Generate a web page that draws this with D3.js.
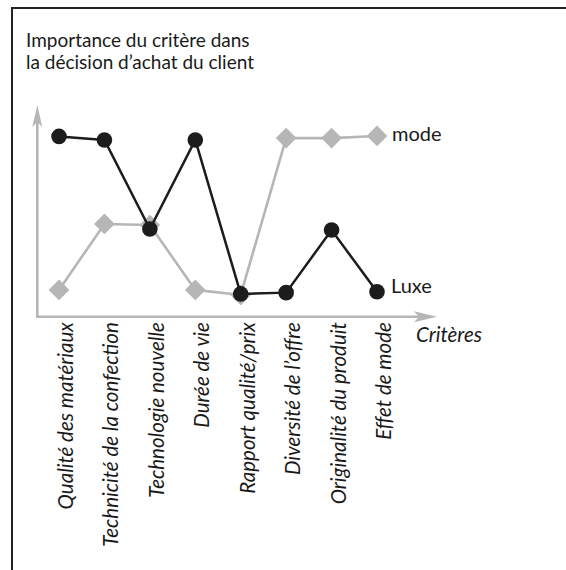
<!DOCTYPE html>
<html>
<head>
    <script src="https://d3js.org/d3.v7.min.js" charset="utf-8"></script>
<style>
    body{
        margin:0;
        background:#fff;
        font-family:Lato, "Open Sans", sans-serif;
    }
</style>
</head>
<body>
    <div id="chart"></div>

  <script>
    // criteria along the x axis
    var criteres = ["Qualité des matériaux","Technicité de la confection","Technologie nouvelle",
                    "Durée de vie","Rapport qualité/prix","Diversité de l’offre",
                    "Originalité du produit","Effet de mode"]
    // importance (0 = bottom axis, 10 = top arrow)
    var luxe = [8.6, 8.43, 4.19, 8.43, 1.1, 1.16, 4.14, 1.2]
    var mode = [1.29, 4.43, 4.38, 1.29, 1.05, 8.52, 8.52, 8.62]
    var titleLines = ["Importance du critère dans","la décision d’achat du client"]

    var W = 566, H = 570
    var grey = "#b6b6b6", dark = "#1c1c1c", ink = "#1a1a1a"

    var svg = d3.select("#chart")
        .append("svg")
        .attr("width",W)
        .attr("height",H)

    // frame, only top and left edges fall inside the picture
    svg.append("rect")
        .attr("x",12).attr("y",8)
        .attr("width",700).attr("height",700)
        .attr("fill","none")
        .attr("stroke","#222")
        .attr("stroke-width",2)

    svg.append("g").selectAll("text")
        .data(titleLines)
        .enter()
        .append("text")
        .attr("x",26)
        .attr("y",function(d,i){return 47+i*22})
        .attr("font-size",19)
        .attr("fill",ink)
        .text(function(d){return d})

    var x = d3.scalePoint().domain(criteres).range([59,377])
    var y = d3.scaleLinear().domain([0,10]).range([317,107])

    var x0 = 37.3, y0 = 316.7

    // axes with swept arrow heads
    svg.append("line")
        .attr("x1",x0).attr("y1",y0+1.2)
        .attr("x2",x0).attr("y2",112)
        .attr("stroke",grey).attr("stroke-width",2.6)
    svg.append("path")
        .attr("d","M"+x0+",105 L"+(x0+5)+",127 L"+x0+",122 L"+(x0-5)+",127 Z")
        .attr("fill",grey)
    svg.append("line")
        .attr("x1",x0-1.3).attr("y1",y0)
        .attr("x2",430).attr("y2",y0)
        .attr("stroke",grey).attr("stroke-width",2.6)
    svg.append("path")
        .attr("d","M437,"+y0+" L414,"+(y0-5.5)+" L419,"+y0+" L414,"+(y0+5.5)+" Z")
        .attr("fill",grey)

    // rotated criteria labels
    var xAxis = svg.append("g")
        .attr("transform","translate(0,"+y0+")")
        .call(d3.axisBottom(x).tickSize(0))
    xAxis.select(".domain").remove()
    xAxis.selectAll("text")
        .attr("transform","rotate(-90)")
        .attr("text-anchor","end")
        .attr("x",-5.5)
        .attr("y",13.5)
        .attr("dy",0)
        .attr("font-family","Lato, 'Open Sans', sans-serif")
        .attr("font-style","italic")
        .attr("font-size",20.5)
        .attr("fill",ink)

    svg.append("text")
        .attr("x",416).attr("y",342)
        .attr("font-style","italic")
        .attr("font-size",20.5)
        .attr("fill",ink)
        .text("Critères")

    var line = d3.line()
        .x(function(d,i){return x(criteres[i])})
        .y(function(d){return y(d)})

    // mode series: grey diamonds
    svg.append("path")
        .datum(mode)
        .attr("d",line)
        .attr("fill","none")
        .attr("stroke",grey)
        .attr("stroke-width",2.6)
    svg.append("g").selectAll("path")
        .data(mode)
        .enter()
        .append("path")
        .attr("d",d3.symbol(d3.symbolSquare,215))
        .attr("transform",function(d,i){return "translate("+x(criteres[i])+","+y(d)+") rotate(45)"})
        .attr("fill",grey)

    // luxe series: black dots
    svg.append("path")
        .datum(luxe)
        .attr("d",line)
        .attr("fill","none")
        .attr("stroke",dark)
        .attr("stroke-width",2.5)
    svg.append("g").selectAll("circle")
        .data(luxe)
        .enter()
        .append("circle")
        .attr("cx",function(d,i){return x(criteres[i])})
        .attr("cy",function(d){return y(d)})
        .attr("r",7.8)
        .attr("fill",dark)

    svg.append("text")
        .attr("x",392).attr("y",y(mode[7])+5)
        .attr("font-size",20)
        .attr("fill",ink)
        .text("mode")
    svg.append("text")
        .attr("x",391).attr("y",y(luxe[7])+1)
        .attr("font-size",20)
        .attr("fill",ink)
        .text("Luxe")
  </script>
</body>
</html>
